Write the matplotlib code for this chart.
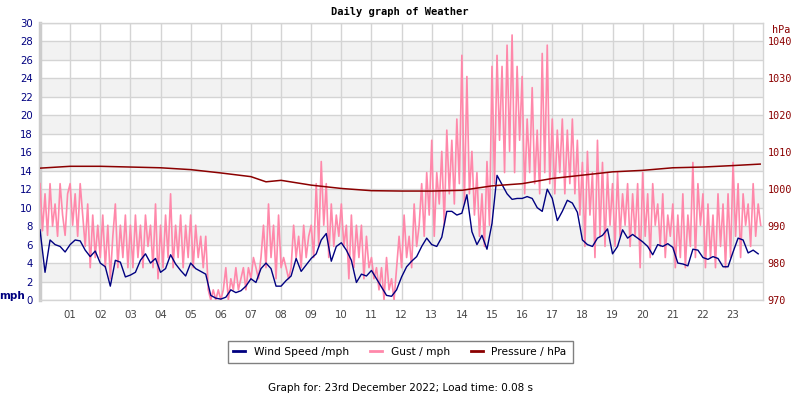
import matplotlib

matplotlib.use("Agg")
import matplotlib.pyplot as plt
from matplotlib.lines import Line2D

# wind speed, mph, one reading every 10 minutes from 00:00
wind_mph = [
    7.6, 3.0, 6.5, 6.0, 5.8, 5.2,
    6.0, 6.5, 6.4, 5.4, 4.7, 5.3,
    4.0, 3.6, 1.5, 4.3, 4.1, 2.5,
    2.7, 3.0, 4.3, 5.0, 4.0, 4.5,
    3.0, 3.4, 4.9, 3.9, 3.2, 2.6,
    4.0, 3.4, 3.1, 2.8, 0.5, 0.2,
    0.1, 0.3, 1.1, 0.8, 1.0, 1.5,
    2.3, 1.9, 3.4, 4.0, 3.4, 1.5,
    1.5, 2.1, 2.6, 4.5, 3.1, 3.8,
    4.5, 5.0, 6.5, 7.2, 4.2, 5.8,
    6.2, 5.4, 4.3, 1.9, 2.8, 2.6,
    3.2, 2.3, 1.4, 0.5, 0.4, 1.1,
    2.5, 3.6, 4.2, 4.7, 5.8, 6.7,
    6.0, 5.8, 6.8, 9.6, 9.6, 9.2,
    9.4, 11.4, 7.4, 6.0, 7.0, 5.5,
    8.3, 13.5, 12.5, 11.5, 10.9, 11.0,
    11.0, 11.2, 11.0, 10.0, 9.6, 12.0,
    11.0, 8.6, 9.6, 10.8, 10.5, 9.5,
    6.5, 6.0, 5.8, 6.7, 7.0, 7.7,
    5.0, 5.8, 7.6, 6.7, 7.1, 6.7,
    6.3, 5.8, 4.9, 6.0, 5.8, 6.1,
    5.7, 4.0, 3.9, 3.7, 5.5, 5.4,
    4.6, 4.4, 4.7, 4.5, 3.6, 3.6,
    5.2, 6.7, 6.5, 5.1, 5.4, 5.0,
]

# gust, mph, one reading every 5 minutes from 00:00
gust_mph = [
    12.6, 7.5, 11.5, 7.0, 12.6, 8.0, 10.4, 6.9, 12.6, 9.2, 7.0, 11.5,
    12.6, 8.1, 11.5, 6.9, 12.6, 9.2, 5.8, 10.4, 3.5, 9.2, 4.6, 8.1,
    4.6, 9.2, 3.5, 8.1, 2.3, 6.9, 10.4, 3.5, 8.1, 4.6, 9.2, 3.5,
    8.1, 3.5, 9.2, 4.6, 8.1, 3.5, 9.2, 5.8, 8.1, 3.5, 10.4, 2.3,
    8.1, 3.5, 9.2, 4.6, 11.5, 3.5, 8.1, 4.6, 9.2, 3.5, 8.1, 4.6,
    9.2, 3.5, 8.1, 4.6, 6.9, 3.5, 6.9, 1.1, 0.0, 1.1, 0.0, 1.1,
    0.0, 1.1, 3.5, 0.0, 2.3, 1.1, 3.5, 1.1, 2.3, 3.5, 1.1, 3.5,
    2.3, 4.6, 3.5, 2.3, 4.6, 8.1, 3.5, 10.4, 4.6, 8.1, 2.3, 9.2,
    3.5, 4.6, 3.5, 2.3, 3.5, 8.1, 4.6, 6.9, 3.5, 8.1, 4.6, 6.9,
    8.1, 4.6, 12.6, 5.8, 15.0, 8.1, 12.6, 4.6, 10.4, 5.8, 9.2, 6.9,
    10.4, 5.8, 8.1, 2.3, 9.2, 3.5, 8.1, 4.6, 8.1, 2.3, 6.9, 3.5,
    4.6, 2.3, 3.5, 1.1, 3.5, 0.0, 4.6, 1.1, 2.3, 0.0, 3.5, 6.9,
    3.5, 9.2, 4.6, 6.9, 3.5, 10.4, 5.8, 8.1, 12.6, 6.9, 13.8, 9.2,
    17.3, 6.9, 13.8, 10.4, 16.1, 8.1, 18.4, 11.5, 17.3, 10.4, 19.6, 12.6,
    26.5, 10.4, 24.2, 11.5, 16.1, 9.2, 13.8, 6.9, 11.5, 5.8, 15.0, 8.1,
    25.3, 12.6, 26.5, 17.3, 25.3, 13.8, 27.6, 16.1, 28.7, 13.8, 25.3, 17.3,
    24.2, 11.5, 19.6, 13.8, 23.0, 12.6, 18.4, 11.5, 26.7, 13.8, 27.6, 12.6,
    19.6, 11.5, 18.4, 13.8, 19.6, 11.5, 18.4, 12.6, 19.6, 11.5, 17.3, 9.2,
    14.9, 5.8, 16.1, 9.2, 13.8, 4.6, 17.3, 6.9, 14.9, 5.8, 13.8, 8.1,
    12.6, 5.8, 13.8, 6.9, 11.5, 8.1, 12.6, 5.8, 11.5, 6.9, 12.6, 3.5,
    13.8, 6.9, 11.5, 4.6, 12.6, 8.1, 10.4, 5.8, 11.5, 4.6, 9.2, 6.9,
    10.4, 3.5, 9.2, 4.6, 11.5, 3.5, 9.2, 5.8, 14.9, 4.6, 12.6, 8.1,
    11.5, 3.5, 10.4, 4.6, 9.2, 3.5, 11.5, 5.8, 10.4, 3.5, 11.5, 4.6,
    14.9, 6.9, 12.6, 4.6, 11.5, 8.1, 10.4, 5.8, 12.6, 6.9, 10.4, 8.1,
]

press_hours = [0, 1, 2, 3, 4, 5, 6, 7, 7.5, 8, 9, 10, 11, 12, 13, 14,
               15, 16, 17, 18, 19, 20, 21, 22, 23, 23.9]
press_hpa = [1005.7, 1006.2, 1006.2, 1006.0, 1005.8, 1005.3, 1004.4, 1003.4,
             1002.0, 1002.4, 1001.1, 1000.2, 999.6, 999.5, 999.5, 999.7,
             1000.9, 1001.5, 1002.9, 1003.8, 1004.7, 1005.1, 1005.8, 1006.0,
             1006.4, 1006.8]

hour_labels = ["%02d" % h for h in range(1, 24)]

NAVY = "#000080"
PINK = "#ff88aa"
DARKRED = "#8b0000"
GRID = "#d4d4d4"

wind_t = [i / 6 for i in range(len(wind_mph))]
gust_t = [i / 12 for i in range(len(gust_mph))]

fig = plt.figure(figsize=(8, 4), dpi=100)
ax = fig.add_axes([0.05, 0.25, 0.904, 0.6925])
ax.set_xlim(0, 24)
ax.set_ylim(0, 30)

for lo in range(2, 28, 4):
    ax.axhspan(lo, lo + 2, color="#f2f2f2", zorder=0, lw=0)

ax.set_yticks(range(0, 31, 2))
ax.set_xticks(range(1, 24))
ax.set_xticklabels(hour_labels)
ax.grid(color=GRID, lw=1, zorder=1)
ax.set_axisbelow(True)
ax.tick_params(axis="y", length=0, pad=5, labelsize=7.3, labelcolor=NAVY)
ax.tick_params(axis="x", length=0, pad=7, labelsize=7.3, labelcolor="#444444")
for s in ("top", "right", "bottom"):
    ax.spines[s].set_color(GRID)
    ax.spines[s].set_linewidth(1)
ax.spines["left"].set_color("#cccccc")
ax.spines["left"].set_linewidth(2.5)

ax.plot(gust_t, gust_mph, color=PINK, lw=1.2, zorder=3)
ax.plot(wind_t, wind_mph, color=NAVY, lw=1, zorder=4)

ax2 = ax.twinx()
ax2.set_ylim(970, 1045)
ax2.set_yticks(range(970, 1041, 10))
ax2.tick_params(axis="y", length=0, pad=3, labelsize=7.3, labelcolor=DARKRED)
for lab in ax2.get_yticklabels():
    lab.set_family("DejaVu Sans Mono")
for s in ax2.spines.values():
    s.set_visible(False)
ax2.plot(press_hours, press_hpa, color=DARKRED, lw=1.1, zorder=5)

fig.text(0.5, 0.97, "Daily graph of Weather", ha="center", va="center",
         family="DejaVu Sans Mono", weight="bold", fontsize=7.5)
fig.text(0.976, 0.925, "hPa", ha="center", va="center", color=DARKRED,
         family="DejaVu Sans Mono", fontsize=7.3)
fig.text(0.015, 0.26, "mph", ha="center", va="center", color=NAVY,
         weight="bold", fontsize=7.5)

handles = [Line2D([], [], color=NAVY, lw=2),
           Line2D([], [], color=PINK, lw=2),
           Line2D([], [], color=DARKRED, lw=2)]
leg = fig.legend(handles, ["Wind Speed /mph", "Gust / mph", "Pressure / hPa"],
                 loc="center", bbox_to_anchor=(0.5, 0.12), ncol=3,
                 fontsize=7.7, handlelength=1.1, columnspacing=2.0,
                 fancybox=False, framealpha=1, borderpad=0.55)
leg.get_frame().set_edgecolor("#808080")
leg.get_frame().set_linewidth(1)

fig.text(0.5, 0.03, "Graph for: 23rd December 2022; Load time: 0.08 s",
         ha="center", va="center", fontsize=7.5)

fig.savefig("out.png", dpi=100)
